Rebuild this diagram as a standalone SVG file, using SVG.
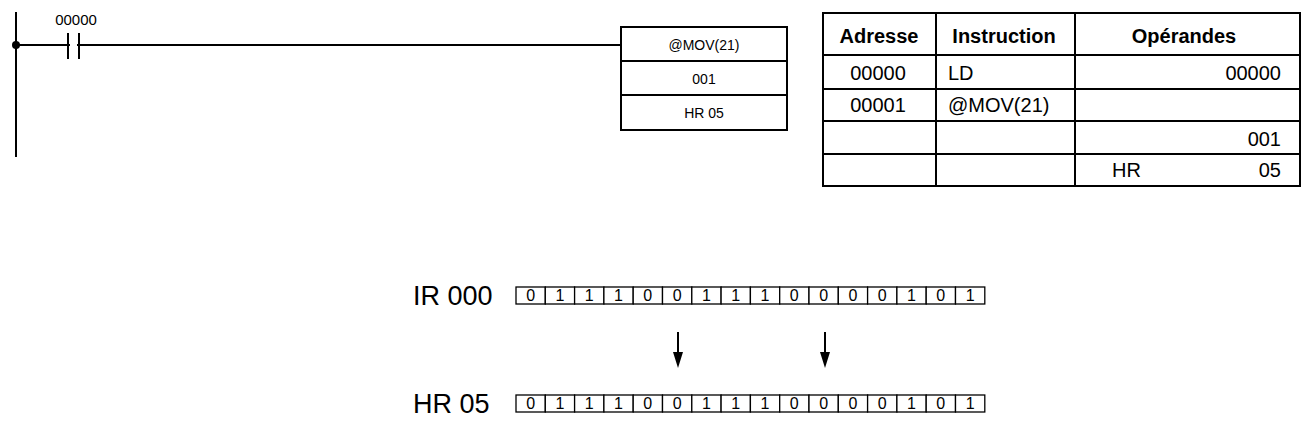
<svg xmlns="http://www.w3.org/2000/svg" width="1306" height="434" viewBox="0 0 1306 434">
<style>
text{font-family:"Liberation Sans",Arial,sans-serif;fill:#000}
.s{font-size:15px}.m{font-size:14px}.t{font-size:20px}.b{font-size:20px;font-weight:bold}.l{font-size:27px}.c{font-size:16px}
.ln{stroke:#000;stroke-width:2;fill:none}
.cell{stroke:#000;stroke-width:1.3;fill:#fff}
</style>
<g id="ladder">
<line class="ln" x1="16" y1="12" x2="16" y2="157"/>
<circle cx="16" cy="45" r="4" fill="#000"/>
<line class="ln" x1="16" y1="45" x2="621" y2="45"/>
<line class="ln" x1="68" y1="33" x2="68" y2="59"/>
<line class="ln" x1="79" y1="33" x2="79" y2="59"/>
<line x1="70" y1="45" x2="77" y2="45" stroke="#fff" stroke-width="3"/>
<text class="s" x="76" y="25" text-anchor="middle">00000</text>
</g>
<g id="movbox">
<rect class="ln" x="621" y="27" width="166" height="103"/>
<line class="ln" x1="621" y1="61" x2="787" y2="61"/>
<line class="ln" x1="621" y1="95" x2="787" y2="95"/>
<text class="m" x="704" y="50" text-anchor="middle">@MOV(21)</text>
<text class="m" x="704" y="84" text-anchor="middle">001</text>
<text class="m" x="704" y="118" text-anchor="middle">HR 05</text>
</g>
<g id="table">
<rect class="ln" x="823" y="13" width="477" height="173"/>
<line class="ln" x1="936" y1="13" x2="936" y2="186"/>
<line class="ln" x1="1075" y1="13" x2="1075" y2="186"/>
<line class="ln" x1="823" y1="55" x2="1300" y2="55"/>
<line class="ln" x1="823" y1="89" x2="1300" y2="89"/>
<line class="ln" x1="823" y1="121" x2="1300" y2="121"/>
<line class="ln" x1="823" y1="154" x2="1300" y2="154"/>
<text class="b" x="879" y="43" text-anchor="middle">Adresse</text>
<text class="b" x="1004" y="43" text-anchor="middle">Instruction</text>
<text class="b" x="1184" y="43" text-anchor="middle">Opérandes</text>
<text class="t" x="878" y="80" text-anchor="middle">00000</text>
<text class="t" x="948" y="80">LD</text>
<text class="t" x="1281" y="80" text-anchor="end">00000</text>
<text class="t" x="878" y="112" text-anchor="middle">00001</text>
<text class="t" x="948" y="112">@MOV(21)</text>
<text class="t" x="1281" y="146" text-anchor="end">001</text>
<text class="t" x="1112" y="177">HR</text>
<text class="t" x="1281" y="177" text-anchor="end">05</text>
</g>
<g id="ir000">
<text class="l" x="413" y="305">IR 000</text>
<g class="cell">
<rect x="516" y="287" width="29.3" height="17"/><rect x="545.3" y="287" width="29.3" height="17"/><rect x="574.6" y="287" width="29.3" height="17"/><rect x="603.9" y="287" width="29.3" height="17"/><rect x="633.2" y="287" width="29.3" height="17"/><rect x="662.5" y="287" width="29.3" height="17"/><rect x="691.8" y="287" width="29.3" height="17"/><rect x="721.1" y="287" width="29.3" height="17"/><rect x="750.4" y="287" width="29.3" height="17"/><rect x="779.7" y="287" width="29.3" height="17"/><rect x="809" y="287" width="29.3" height="17"/><rect x="838.3" y="287" width="29.3" height="17"/><rect x="867.6" y="287" width="29.3" height="17"/><rect x="896.9" y="287" width="29.3" height="17"/><rect x="926.2" y="287" width="29.3" height="17"/><rect x="955.5" y="287" width="29.3" height="17"/>
</g>
<g class="c" text-anchor="middle">
<text x="530.6" y="301">0</text><text x="559.9" y="301">1</text><text x="589.2" y="301">1</text><text x="618.5" y="301">1</text><text x="647.8" y="301">0</text><text x="677.1" y="301">0</text><text x="706.4" y="301">1</text><text x="735.7" y="301">1</text><text x="765" y="301">1</text><text x="794.3" y="301">0</text><text x="823.6" y="301">0</text><text x="852.9" y="301">0</text><text x="882.2" y="301">0</text><text x="911.5" y="301">1</text><text x="940.8" y="301">0</text><text x="970.1" y="301">1</text>
</g>
</g>
<g id="hr05">
<text class="l" x="413" y="413">HR 05</text>
<g class="cell">
<rect x="516" y="395" width="29.3" height="17"/><rect x="545.3" y="395" width="29.3" height="17"/><rect x="574.6" y="395" width="29.3" height="17"/><rect x="603.9" y="395" width="29.3" height="17"/><rect x="633.2" y="395" width="29.3" height="17"/><rect x="662.5" y="395" width="29.3" height="17"/><rect x="691.8" y="395" width="29.3" height="17"/><rect x="721.1" y="395" width="29.3" height="17"/><rect x="750.4" y="395" width="29.3" height="17"/><rect x="779.7" y="395" width="29.3" height="17"/><rect x="809" y="395" width="29.3" height="17"/><rect x="838.3" y="395" width="29.3" height="17"/><rect x="867.6" y="395" width="29.3" height="17"/><rect x="896.9" y="395" width="29.3" height="17"/><rect x="926.2" y="395" width="29.3" height="17"/><rect x="955.5" y="395" width="29.3" height="17"/>
</g>
<g class="c" text-anchor="middle">
<text x="530.6" y="409">0</text><text x="559.9" y="409">1</text><text x="589.2" y="409">1</text><text x="618.5" y="409">1</text><text x="647.8" y="409">0</text><text x="677.1" y="409">0</text><text x="706.4" y="409">1</text><text x="735.7" y="409">1</text><text x="765" y="409">1</text><text x="794.3" y="409">0</text><text x="823.6" y="409">0</text><text x="852.9" y="409">0</text><text x="882.2" y="409">0</text><text x="911.5" y="409">1</text><text x="940.8" y="409">0</text><text x="970.1" y="409">1</text>
</g>
</g>
<g id="connectors">
<line class="ln" x1="678" y1="332" x2="678" y2="354"/>
<path d="M673,352 L683,352 L678,368 Z" fill="#000"/>
<line class="ln" x1="825" y1="332" x2="825" y2="354"/>
<path d="M820,352 L830,352 L825,368 Z" fill="#000"/>
</g>
</svg>
